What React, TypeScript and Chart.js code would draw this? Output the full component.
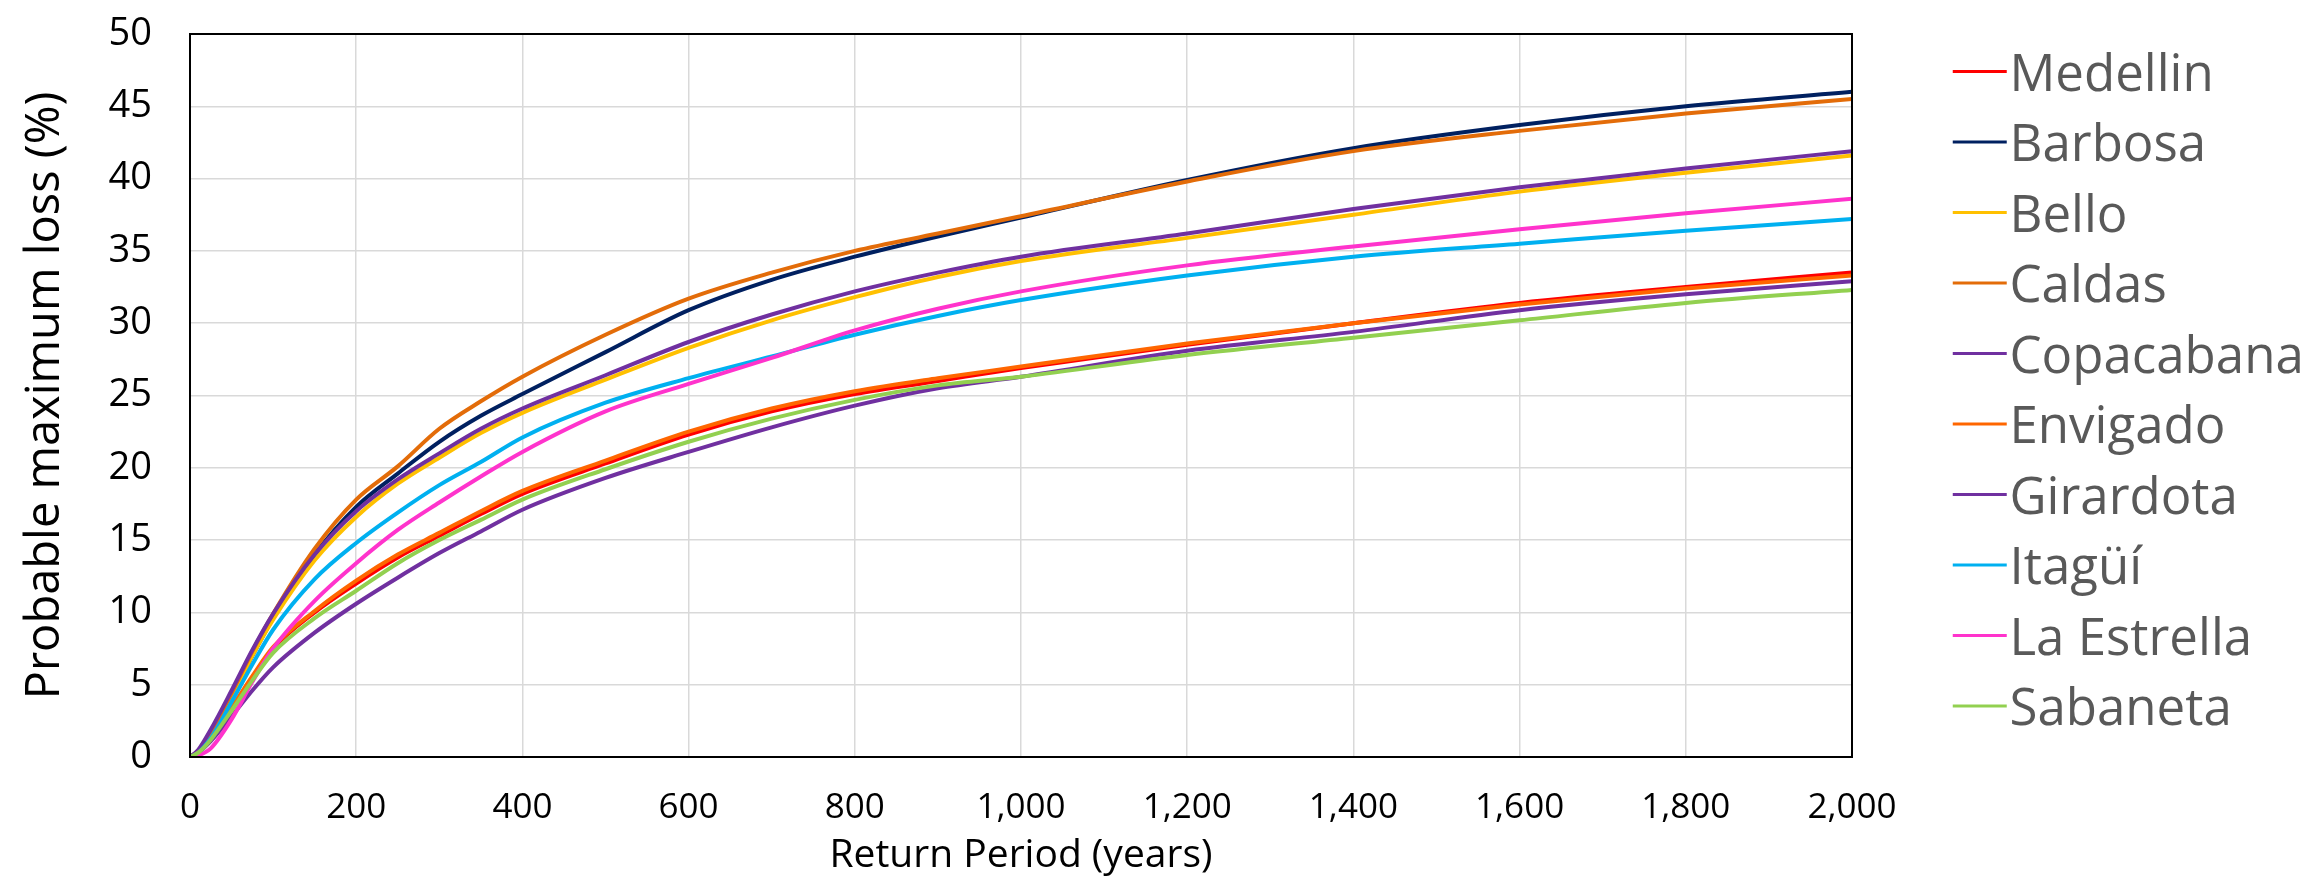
import React, { useEffect, useRef } from "react";
import { Chart, registerables } from "chart.js";

Chart.register(...registerables);

const returnPeriods = [0, 10, 25, 50, 75, 100, 150, 200, 250, 300, 350, 400, 500, 600, 700, 800, 900, 1000, 1200, 1400, 1600, 1800, 2000];

const medellin = [0, 0.3, 1.2, 3.3, 5.5, 7.5, 10.0, 12.0, 13.8, 15.3, 16.8, 18.2, 20.3, 22.3, 23.9, 25.1, 26.0, 26.9, 28.5, 30.0, 31.4, 32.5, 33.5];
const barbosa = [0, 0.4, 1.6, 4.2, 7.0, 9.6, 14.0, 17.3, 19.6, 21.8, 23.6, 25.1, 28.0, 30.9, 33.0, 34.6, 36.0, 37.3, 39.9, 42.1, 43.7, 45.0, 46.0];
const bello = [0, 0.4, 1.6, 4.2, 7.0, 9.5, 13.6, 16.6, 18.9, 20.7, 22.4, 23.8, 26.1, 28.3, 30.2, 31.8, 33.2, 34.3, 35.9, 37.5, 39.1, 40.4, 41.6];
const caldas = [0, 0.4, 1.7, 4.4, 7.3, 9.9, 14.4, 17.8, 20.1, 22.7, 24.6, 26.3, 29.2, 31.7, 33.5, 35.0, 36.2, 37.4, 39.8, 41.9, 43.3, 44.5, 45.5];
const copacabana = [0, 0.5, 1.9, 4.6, 7.4, 9.9, 14.0, 17.0, 19.2, 21.0, 22.7, 24.1, 26.4, 28.7, 30.6, 32.2, 33.5, 34.6, 36.2, 37.9, 39.4, 40.7, 41.9];
const envigado = [0, 0.3, 1.2, 3.4, 5.6, 7.6, 10.1, 12.2, 14.0, 15.5, 17.0, 18.4, 20.5, 22.5, 24.1, 25.3, 26.2, 27.0, 28.6, 30.0, 31.3, 32.4, 33.3];
const girardota = [0, 0.3, 1.1, 2.8, 4.6, 6.2, 8.6, 10.6, 12.4, 14.1, 15.6, 17.1, 19.3, 21.1, 22.8, 24.3, 25.5, 26.3, 28.1, 29.4, 30.9, 32.0, 32.9];
const itagui = [0, 0.3, 1.3, 3.8, 6.4, 8.8, 12.3, 14.8, 16.9, 18.8, 20.4, 22.1, 24.5, 26.2, 27.7, 29.2, 30.5, 31.6, 33.3, 34.6, 35.5, 36.4, 37.2];
const laEstrella = [0, 0.1, 0.6, 2.6, 5.2, 7.5, 10.8, 13.4, 15.7, 17.6, 19.4, 21.1, 23.9, 25.8, 27.6, 29.5, 31.0, 32.2, 34.0, 35.3, 36.5, 37.6, 38.6];
const sabaneta = [0, 0.3, 1.2, 3.2, 5.3, 7.2, 9.6, 11.5, 13.4, 15.0, 16.4, 17.8, 19.9, 21.8, 23.4, 24.7, 25.7, 26.3, 27.8, 29.0, 30.2, 31.4, 32.3];

const seriesNames = ["Medellin", "Barbosa", "Bello", "Caldas", "Copacabana", "Envigado", "Girardota", "Itagüí", "La Estrella", "Sabaneta"];
const seriesValues = [medellin, barbosa, bello, caldas, copacabana, envigado, girardota, itagui, laEstrella, sabaneta];
const seriesColors = ["#FF0000", "#002060", "#FFC000", "#E36C09", "#7030A0", "#FF6600", "#7030A0", "#00B0F0", "#FF33CC", "#92D050"];

const yTicksMin = 0;
const yTicksMax = 50;
const yStep = 5;
const xTicksMin = 0;
const xTicksMax = 2000;
const xStep = 200;

function makeLegendLine(color: string): HTMLCanvasElement {
  const c = document.createElement("canvas");
  c.width = 160;
  c.height = 16;
  const g = c.getContext("2d")!;
  g.fillStyle = color;
  g.fillRect(105, 2, 54, 3);
  return c;
}

const framePlugin = {
  id: "frame",
  afterDraw(chart: any) {
    const { ctx, chartArea: a } = chart;
    ctx.save();
    ctx.strokeStyle = "#000000";
    ctx.lineWidth = 2;
    ctx.strokeRect(a.left, a.top, a.right - a.left, a.bottom - a.top);
    ctx.restore();
  },
};

export default function App() {
  const ref = useRef<HTMLCanvasElement>(null);

  useEffect(() => {
    if (!ref.current) return;
    const legendImages = seriesColors.map((c) => makeLegendLine(c));
    const datasets = seriesNames.map((name, i) => ({
      label: name,
      data: returnPeriods.map((x, j) => ({ x, y: seriesValues[i][j] })),
      borderColor: seriesColors[i],
      backgroundColor: seriesColors[i],
      borderWidth: 4,
      pointRadius: 0,
      pointHoverRadius: 0,
      fill: false,
      cubicInterpolationMode: "monotone" as const,
      order: seriesNames.length - i,
    }));

    const chart = new Chart(ref.current, {
      type: "line",
      data: { datasets },
      options: {
        animation: false,
        responsive: false,
        devicePixelRatio: 1,
        layout: { padding: { top: 9, left: 0, right: 0, bottom: 0 } },
        font: { family: "'Open Sans'" } as any,
        plugins: {
          tooltip: { enabled: false },
          legend: {
            position: "right",
            align: "start",
            maxWidth: 453,
            title: {
              display: true,
              text: " ",
              font: { family: "'Open Sans'", size: 22, lineHeight: 1 },
              padding: 0,
            },
            labels: {
              usePointStyle: true,
              pointStyleWidth: 112.5,
              padding: 19.5,
              color: "#595959",
              font: { family: "'Open Sans'", size: 51 },
              generateLabels: (ch: any) =>
                ch.data.datasets.map((ds: any, i: number) => ({
                  text: ds.label,
                  fillStyle: ds.borderColor,
                  strokeStyle: ds.borderColor,
                  fontColor: "#595959",
                  lineWidth: 0,
                  hidden: false,
                  datasetIndex: i,
                  pointStyle: legendImages[i],
                })),
            },
          },
        },
        scales: {
          x: {
            type: "linear",
            min: xTicksMin,
            max: xTicksMax,
            afterFit: (s: any) => {
              s.height = 128;
            },
            border: { display: false },
            grid: { color: "#D9D9D9", lineWidth: 1.5, drawTicks: false },
            ticks: {
              stepSize: xStep,
              padding: 30,
              maxRotation: 0,
              autoSkip: false,
              color: "#000000",
              font: { family: "'Open Sans'", size: 35 },
            },
            title: {
              display: true,
              text: "Return Period (years)",
              color: "#000000",
              font: { family: "'Open Sans'", size: 39 },
              padding: { top: 0, bottom: 6 },
            },
          },
          y: {
            type: "linear",
            min: yTicksMin,
            max: yTicksMax,
            afterFit: (s: any) => {
              s.width = 190;
              s.paddingTop = 34;
              s.paddingBottom = 0;
            },
            border: { display: false },
            grid: { color: "#D9D9D9", lineWidth: 1.5, drawTicks: false },
            ticks: {
              stepSize: yStep,
              padding: 38,
              autoSkip: false,
              color: "#000000",
              font: { family: "'Open Sans'", size: 38 },
            },
            title: {
              display: true,
              text: "Probable maximum loss (%)",
              color: "#000000",
              font: { family: "'Open Sans'", size: 47 },
              padding: { top: 17, bottom: 0 },
            },
          },
        },
      },
      plugins: [framePlugin],
    });
    return () => chart.destroy();
  }, []);

  return (
    <div style={{ position: "absolute", left: 0, top: 0, width: 2305, height: 885, background: "#ffffff" }}>
      <canvas ref={ref} width={2305} height={885} style={{ display: "block", width: 2305, height: 885 }} />
    </div>
  );
}
